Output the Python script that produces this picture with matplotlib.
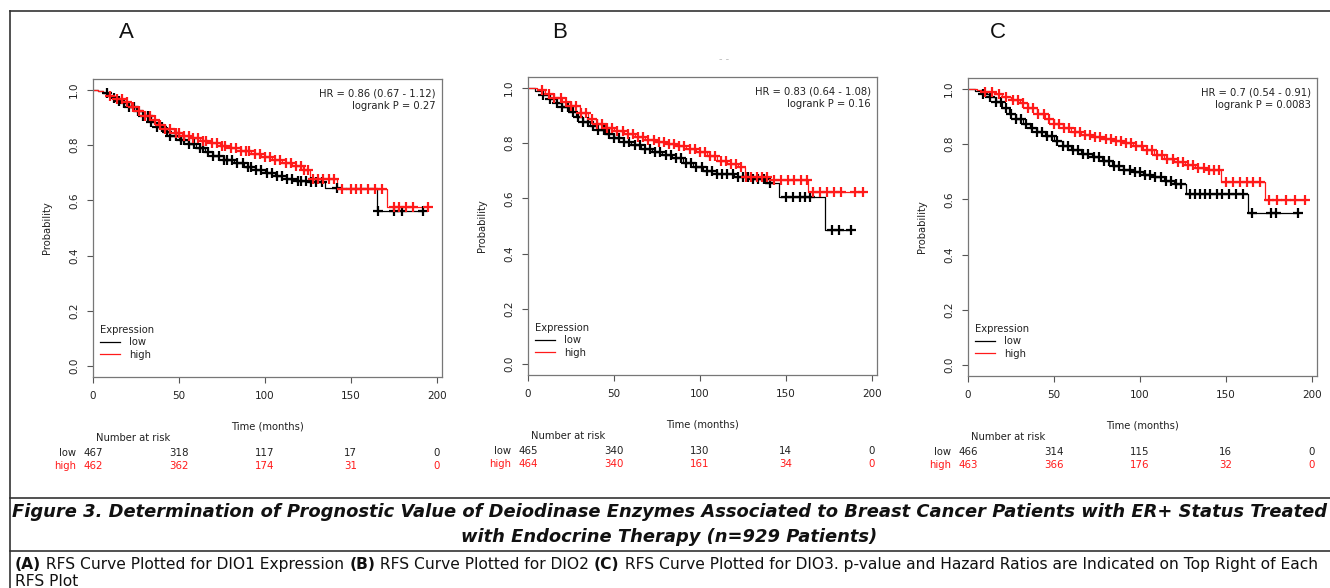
import numpy as np
import matplotlib
matplotlib.use("Agg")
import matplotlib.pyplot as plt
import matplotlib.transforms as mtransforms
from matplotlib.lines import Line2D

# ---------------- data ----------------
panel_labels = ["A", "B", "C"]
hr_texts = ["HR = 0.86 (0.67 - 1.12)\nlogrank P = 0.27",
            "HR = 0.83 (0.64 - 1.08)\nlogrank P = 0.16",
            "HR = 0.7 (0.54 - 0.91)\nlogrank P = 0.0083"]
risk_times = [0, 50, 100, 150, 200]
A_risk_low = [467, 318, 117, 17, 0]
A_risk_high = [462, 362, 174, 31, 0]
B_risk_low = [465, 340, 130, 14, 0]
B_risk_high = [464, 340, 161, 34, 0]
C_risk_low = [466, 314, 115, 16, 0]
C_risk_high = [463, 366, 176, 32, 0]

# step curves (time, survival) and censor times
A_low_t = [0, 3, 6, 9, 12, 15, 18, 21, 25, 29, 33, 37, 41, 45, 50, 55, 60, 65, 70, 76, 82, 88, 94, 100, 106, 112, 118, 125, 135, 165, 192]
A_low_s = [1.0, 0.995, 0.99, 0.98, 0.97, 0.962, 0.952, 0.94, 0.925, 0.905, 0.885, 0.865, 0.848, 0.832, 0.818, 0.803, 0.79, 0.775, 0.762, 0.748, 0.735, 0.722, 0.71, 0.70, 0.69, 0.678, 0.67, 0.665, 0.645, 0.563, 0.563]
A_low_c = [8, 12, 15, 18, 21, 24, 26, 29, 32, 34, 37, 40, 43, 45, 48, 51, 53, 56, 59, 62, 64, 67, 70, 73, 76, 78, 81, 84, 87, 90, 92, 95, 98, 101, 104, 107, 110, 113, 116, 119, 121, 124, 127, 130, 133, 142, 166, 175, 180, 192]
A_high_t = [0, 3, 6, 10, 14, 18, 22, 26, 30, 34, 38, 42, 47, 52, 57, 62, 68, 74, 80, 86, 92, 98, 104, 110, 116, 122, 126, 142, 171, 195]
A_high_s = [1.0, 0.995, 0.99, 0.98, 0.968, 0.955, 0.94, 0.925, 0.905, 0.89, 0.873, 0.858, 0.845, 0.835, 0.825, 0.816, 0.808, 0.798, 0.79, 0.778, 0.768, 0.758, 0.748, 0.735, 0.724, 0.712, 0.678, 0.643, 0.575, 0.575]
A_high_c = [10, 14, 17, 20, 23, 27, 30, 33, 36, 39, 42, 45, 48, 50, 53, 56, 58, 61, 64, 66, 69, 72, 75, 77, 80, 83, 86, 89, 91, 94, 97, 100, 103, 106, 109, 112, 115, 118, 121, 123, 125, 128, 131, 134, 137, 140, 145, 150, 153, 156, 160, 164, 168, 175, 178, 182, 186, 195]

B_low_t = [0, 4, 8, 12, 16, 20, 24, 28, 32, 36, 40, 45, 50, 55, 60, 66, 72, 78, 84, 90, 96, 102, 110, 120, 130, 138, 146, 173, 188]
B_low_s = [1.0, 0.99, 0.975, 0.96, 0.945, 0.93, 0.912, 0.895, 0.878, 0.862, 0.848, 0.833, 0.818, 0.805, 0.793, 0.78, 0.768, 0.756, 0.745, 0.73, 0.715, 0.70, 0.688, 0.679, 0.672, 0.655, 0.605, 0.484, 0.484]
B_low_c = [9, 13, 17, 20, 23, 26, 29, 32, 35, 38, 41, 44, 47, 50, 53, 56, 59, 62, 65, 68, 71, 74, 77, 80, 83, 86, 89, 92, 95, 98, 101, 104, 107, 110, 113, 116, 119, 122, 125, 128, 131, 134, 137, 141, 150, 154, 158, 161, 164, 177, 181, 188]
B_high_t = [0, 5, 10, 15, 20, 25, 30, 35, 40, 45, 50, 56, 62, 68, 74, 80, 86, 92, 98, 104, 110, 116, 122, 126, 140, 163, 195]
B_high_s = [1.0, 0.993, 0.98, 0.965, 0.95, 0.935, 0.91, 0.887, 0.868, 0.855, 0.843, 0.832, 0.822, 0.813, 0.805, 0.798, 0.79, 0.78, 0.77, 0.755, 0.737, 0.724, 0.714, 0.677, 0.665, 0.622, 0.622]
B_high_c = [8, 12, 15, 19, 22, 25, 28, 31, 34, 37, 40, 43, 46, 49, 52, 55, 58, 61, 64, 67, 70, 73, 76, 79, 82, 85, 88, 91, 94, 97, 100, 103, 106, 109, 112, 115, 118, 121, 124, 127, 130, 133, 136, 139, 143, 147, 151, 155, 159, 162, 166, 170, 174, 178, 182, 190, 195]

C_low_t = [0, 4, 8, 12, 16, 20, 24, 28, 32, 36, 40, 45, 50, 55, 60, 66, 72, 78, 84, 90, 96, 102, 108, 114, 120, 127, 163, 192]
C_low_s = [1.0, 0.993, 0.982, 0.97, 0.952, 0.932, 0.91, 0.89, 0.872, 0.857, 0.845, 0.83, 0.812, 0.795, 0.78, 0.765, 0.752, 0.738, 0.722, 0.708, 0.698, 0.69, 0.68, 0.665, 0.655, 0.621, 0.551, 0.551]
C_low_c = [9, 13, 16, 19, 22, 25, 28, 31, 34, 37, 40, 43, 46, 49, 52, 55, 58, 61, 64, 67, 70, 73, 76, 79, 82, 85, 88, 91, 94, 97, 100, 103, 106, 109, 112, 115, 118, 121, 124, 129, 132, 135, 138, 141, 145, 148, 152, 156, 160, 165, 176, 179, 192]
C_high_t = [0, 5, 10, 15, 20, 25, 30, 35, 40, 45, 50, 55, 60, 66, 72, 78, 84, 90, 96, 102, 108, 114, 120, 126, 132, 140, 147, 173, 196]
C_high_s = [1.0, 0.995, 0.99, 0.982, 0.972, 0.96, 0.948, 0.93, 0.91, 0.89, 0.872, 0.858, 0.845, 0.834, 0.825, 0.818, 0.81, 0.803, 0.792, 0.778, 0.762, 0.745, 0.735, 0.725, 0.715, 0.708, 0.663, 0.598, 0.598]
C_high_c = [10, 14, 18, 22, 26, 29, 32, 35, 38, 41, 44, 47, 50, 53, 56, 59, 62, 65, 68, 71, 74, 77, 80, 83, 86, 89, 92, 95, 98, 101, 104, 107, 110, 113, 116, 119, 122, 125, 128, 131, 134, 137, 140, 143, 146, 150, 154, 158, 162, 166, 170, 175, 180, 185, 190, 196]

caption_title1 = "Figure 3. Determination of Prognostic Value of Deiodinase Enzymes Associated to Breast Cancer Patients with ER+ Status Treated"
caption_title2 = "with Endocrine Therapy (n=929 Patients)"
caption_parts = [("(A)", "bold"), (" RFS Curve Plotted for DIO1 Expression ", "normal"),
                 ("(B)", "bold"), (" RFS Curve Plotted for DIO2 ", "normal"),
                 ("(C)", "bold"), (" RFS Curve Plotted for DIO3. p-value and Hazard Ratios are Indicated on Top Right of Each", "normal")]
caption_line2 = "RFS Plot"

panels = [
    dict(label="A", L=93, T=79, lt=A_low_t, ls=A_low_s, lc=A_low_c, ht=A_high_t, hs=A_high_s, hc=A_high_c,
         rl=A_risk_low, rh=A_risk_high, hr=hr_texts[0], lab=(126, 33)),
    dict(label="B", L=528, T=77, lt=B_low_t, ls=B_low_s, lc=B_low_c, ht=B_high_t, hs=B_high_s, hc=B_high_c,
         rl=B_risk_low, rh=B_risk_high, hr=hr_texts[1], lab=(560, 33)),
    dict(label="C", L=968, T=78, lt=C_low_t, ls=C_low_s, lc=C_low_c, ht=C_high_t, hs=C_high_s, hc=C_high_c,
         rl=C_risk_low, rh=C_risk_high, hr=hr_texts[2], lab=(998, 32)),
]

# ---------------- figure ----------------
W, H = 1330, 588
plt.rcParams['font.family'] = ['DejaVu Sans']
fig = plt.figure(figsize=(W / 100, H / 100), dpi=100)
fig.patch.set_facecolor("white")

AXW, AXH = 349, 298
TXT = "#222222"
RED = "#ff1a1a"


def step_val(t, s, c):
    idx = np.searchsorted(np.asarray(t), np.asarray(c), side="right") - 1
    return np.asarray(s)[idx]


for p in panels:
    ax = fig.add_axes([p["L"] / W, 1 - (p["T"] + AXH) / H, AXW / W, AXH / H])
    ax.set_xlim(0, 203)
    ax.set_ylim(-0.04, 1.04)
    for sp in ax.spines.values():
        sp.set_color("#777777")
        sp.set_linewidth(0.9)
    ax.set_xticks(risk_times)
    ax.set_yticks([0, 0.2, 0.4, 0.6, 0.8, 1.0])
    ax.set_yticklabels(["0.0", "0.2", "0.4", "0.6", "0.8", "1.0"], rotation=90, va="center")
    ax.tick_params(direction="out", length=4, width=0.8, color="#555555", labelsize=7.5,
                   labelcolor=TXT, pad=6)

    ax.plot(p["lt"], p["ls"], drawstyle="steps-post", color="black", lw=0.9, label="low")
    ax.plot(p["ht"], p["hs"], drawstyle="steps-post", color=RED, lw=0.9, label="high")
    ax.plot(p["lc"], step_val(p["lt"], p["ls"], p["lc"]), ls="none", marker="+", ms=6.5, mew=1.6, color="black")
    ax.plot(p["hc"], step_val(p["ht"], p["hs"], p["hc"]), ls="none", marker="+", ms=6.5, mew=1.6, color=RED)

    ax.text(0.982, 0.968, p["hr"], transform=ax.transAxes, ha="right", va="top",
            fontsize=7.2, color=TXT, linespacing=1.25, multialignment="right")

    leg = ax.legend(title="Expression", loc="lower left", bbox_to_anchor=(0.0, 0.035),
                    frameon=False, fontsize=7.2, title_fontsize=7.2, handlelength=2.0,
                    handletextpad=0.9, labelspacing=0.25, borderaxespad=0.3, alignment="left")
    for txt in leg.get_texts():
        txt.set_color(TXT)
    leg.get_title().set_color(TXT)

    ax.text(0.5, -0.165, "Time (months)", transform=ax.transAxes, ha="center", va="center",
            fontsize=7.2, color=TXT)
    ax.text(-0.132, 0.5, "Probability", transform=ax.transAxes, ha="center", va="center",
            rotation=90, fontsize=7.2, color=TXT)

    bt = mtransforms.blended_transform_factory(ax.transData, fig.transFigure)
    y_nar = 1 - (p["T"] + 359) / H
    y_low = 1 - (p["T"] + 374) / H
    y_high = 1 - (p["T"] + 387) / H
    ax.text(23.5, y_nar, "Number at risk", transform=bt, ha="center", va="center", fontsize=7.2, color=TXT)
    ax.text(-10, y_low, "low", transform=bt, ha="right", va="center", fontsize=7.2, color=TXT)
    ax.text(-10, y_high, "high", transform=bt, ha="right", va="center", fontsize=7.2, color=RED)
    for tt, nl, nh in zip(risk_times, p["rl"], p["rh"]):
        ax.text(tt, y_low, str(nl), transform=bt, ha="center", va="center", fontsize=7.4, color=TXT)
        ax.text(tt, y_high, str(nh), transform=bt, ha="center", va="center", fontsize=7.4, color=RED)

    fig.text(p["lab"][0] / W, 1 - p["lab"][1] / H, p["label"], ha="center", va="center",
             fontsize=16, color="#111111", family="Liberation Sans")

# faint artefact in panel B
fig.text(724 / W, 1 - 59 / H, "- -", ha="center", va="center", fontsize=7, color="#bbbbbb")

# ---------------- frame lines ----------------
LC = "#333333"
def hline(y, x0=10, x1=W):
    fig.add_artist(Line2D([x0 / W, x1 / W], [1 - y / H, 1 - y / H], transform=fig.transFigure,
                          color=LC, lw=1.2))
hline(11)
hline(498)
hline(551)
fig.add_artist(Line2D([10 / W, 10 / W], [1 - 11 / H, 0], transform=fig.transFigure, color=LC, lw=1.2))

# ---------------- caption ----------------
t1 = fig.text(669 / W, 1 - 512 / H, caption_title1, ha="center", va="center", fontsize=11,
              fontweight="bold", fontstyle="italic", color="#111111")
t2 = fig.text(669 / W, 1 - 537 / H, caption_title2, ha="center", va="center", fontsize=11,
              fontweight="bold", fontstyle="italic", color="#111111")

parts = []
for s, w in caption_parts:
    a = fig.text(15 / W, 1 - 569 / H, s, ha="left", va="baseline", fontsize=10,
                 fontweight=w, color="#111111")
    parts.append(a)
l2 = fig.text(15 / W, 1 - 586 / H, caption_line2, ha="left", va="baseline", fontsize=10, color="#111111")

fig.canvas.draw()
r = fig.canvas.get_renderer()
# fit widths
w1 = t1.get_window_extent(r).width
fs1 = 11 * 1306 / w1
t1.set_fontsize(fs1)
t2.set_fontsize(fs1)
wp = sum(a.get_window_extent(r).width for a in parts)
fs2 = 10 * 1305 / wp
for a in parts:
    a.set_fontsize(fs2)
l2.set_fontsize(fs2)
fig.canvas.draw()
x = 15
for a in parts:
    a.set_position((x / W, 1 - 569 / H))
    fig.canvas.draw()
    x += a.get_window_extent(r).width

fig.savefig("out.png", dpi=100, facecolor="white")
